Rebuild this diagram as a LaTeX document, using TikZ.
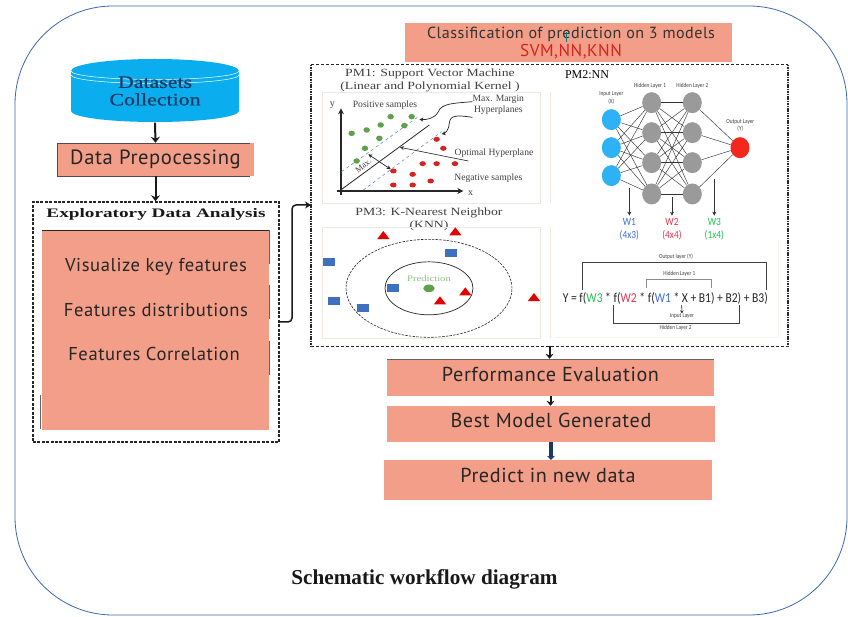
\documentclass[tikz,border=0pt]{standalone}
\usepackage{fontspec}
\setmainfont{Liberation Serif}
\newfontfamily\din{PT Sans}[LetterSpace=3]
\newfontfamily\wideserif{Liberation Serif}[FakeStretch=1.25]
\newfontfamily\widerserif{Liberation Serif}[FakeStretch=1.48]
\newfontfamily\cylserif{Liberation Serif}[FakeStretch=1.25,FakeBold=.6]
\newfontfamily\calfont{Carlito}
\newfontfamily\condfont{Carlito}[FakeStretch=.85]
\usetikzlibrary{arrows.meta,shapes.geometric}
\definecolor{salmon}{HTML}{F29E88}
\definecolor{frameblue}{HTML}{3E68AE}
\definecolor{cyl}{HTML}{0AAEEF}
\definecolor{navy}{HTML}{1B3A63}
\definecolor{panel}{HTML}{F0E8DE}
\definecolor{nblue}{HTML}{2DB2F5}
\definecolor{ngray}{HTML}{9A9A9A}
\definecolor{nred}{HTML}{F5261C}
\definecolor{pgreen}{HTML}{5FA04A}
\definecolor{pred}{HTML}{D5231F}
\definecolor{sqblue}{HTML}{3F70C0}
\definecolor{wblue}{HTML}{3D6FD8}
\definecolor{wred}{HTML}{E8344E}
\definecolor{wgreen}{HTML}{22C24C}
\tikzset{
  sbox/.style={fill=salmon,inner sep=0pt,text=black!85},
  din18/.style={font=\din\fontsize{18.6}{21}\selectfont},
  din20/.style={font=\din\fontsize{20.2}{22}\selectfont},
  flow/.style={line width=2pt,-{Stealth[length=6pt,width=9pt]},black!90},
  dframe/.style={draw=black!85,line width=1.4pt,dash pattern=on 3pt off 1.4pt},
  thin arrow/.style={line width=.7pt,-{Stealth[length=4pt,width=4pt]},black!80},
  pbox/.style={draw=panel,line width=.8pt},
  gdot/.style={ellipse,fill=pgreen,inner sep=0pt,minimum width=6.5pt,minimum height=5.5pt},
  rdot/.style={ellipse,fill=pred,inner sep=0pt,minimum width=6.5pt,minimum height=5pt},
  tri/.style={isosceles triangle,isosceles triangle apex angle=75,shape border rotate=90,fill=red!90!black,inner sep=0pt,minimum height=8pt,minimum width=11pt},
  sq/.style={fill=sqblue,inner sep=0pt,minimum width=12pt,minimum height=8pt},
  nn/.style={ellipse,inner sep=0pt,minimum width=19pt,minimum height=21pt},
  nedge/.style={line width=.45pt,black!80},
  tinylab/.style={font=\condfont\fontsize{6.2}{7.5}\selectfont,text=black!75,align=center,inner sep=0pt},
  gtitle/.style={font=\wideserif\fontsize{11}{13}\selectfont,text=black!75,align=center,inner sep=0pt},
  plabel/.style={font=\fontsize{9.6}{10.5}\selectfont,text=black!75,align=center,inner sep=0pt},
  wlab/.style={font=\condfont\fontsize{11}{12.5}\selectfont,align=center,inner sep=0pt},
}
\begin{document}
\begin{tikzpicture}[x=1pt,y=-1pt]
\useasboundingbox (0,0) rectangle (848,617);
\fill[white] (0,0) rectangle (848,617);
% outer frame
\draw[frameblue,line width=.8pt,rounded corners=98pt] (15,6) rectangle (847,615);
% cylinder
\fill[cyl] (71,71) arc[start angle=180,end angle=360,x radius=84,y radius=12]
  -- (239,111) arc[start angle=0,end angle=180,x radius=84,y radius=11] -- cycle;
\draw[white,line width=.5pt] (71,71) arc[start angle=180,end angle=0,x radius=84,y radius=8.5];
\draw[white,line width=.5pt] (71,75) arc[start angle=180,end angle=0,x radius=84,y radius=8.5];
\node[inner sep=0pt,minimum width=168pt,minimum height=63pt,align=center,text=navy,
  font=\cylserif\fontsize{17.5}{18.5}\selectfont] (data) at (155,91) {\raisebox{-1pt}{Datasets}\\Collection};
% data preprocessing
\node[sbox,din20,font=\din\fontsize{20.6}{22}\selectfont,minimum width=197pt,minimum height=33pt] (prep) at (155.5,159.5) {\raisebox{-2pt}{Data Prepocessing}};
\draw[black!70,line width=.8pt] (250,143) -- (57,143) -- (57,176) -- (250,176);
% EDA
\node[dframe,inner sep=0pt,minimum width=246pt,minimum height=240pt] (eda) at (156,322) {};
\node[inner sep=0pt,font=\widerserif\bfseries\fontsize{13}{14}\selectfont,text=black!90] (edatitle) at (156,214) {Exploratory Data Analysis};
\node[sbox,minimum width=227pt,minimum height=200pt] (edabox) at (155.5,330) {};
\draw[black!85,line width=.7pt] (42,230) -- (269,230);
\draw[black!60,line width=.8pt] (269,230) -- (269,264) (269,285) -- (269,319) (269,341) -- (269,375) (40,395) -- (40,429);
\node[din18,text=black!85,inner sep=0pt] (v1) at (156,267) {Visualize key features};
\node[din18,text=black!85,inner sep=0pt] (v2) at (156,310) {Features distributions};
\node[din18,text=black!85,inner sep=0pt] (v3) at (154,354) {Features Correlation};
% top box
\node[sbox,minimum width=327pt,minimum height=39pt,align=center] (topbox) at (568.5,42.5) {};
\node[inner sep=0pt,font=\din\fontsize{16.1}{18}\selectfont,text=black!80] (toptext) at (571,34) {Classification of prediction on 3 models};
\node[inner sep=0pt,font=\din\fontsize{17.2}{19}\selectfont,text=pred] (toptext2) at (571,52) {SVM,NN,KNN};
\draw[teal,line width=.4pt] (566,32) -- (566,42);
% models frame
\node[inner sep=0pt,minimum width=477pt,minimum height=281pt] (models) at (549.5,205.5) {};
\draw[black!85,line width=1pt,dash pattern=on 3.5pt off 1.5pt] (models.north west) -- (models.north east) (models.south west) -- (models.south east);
\draw[black!85,line width=1.7pt,dash pattern=on 1.6pt off .8pt] (models.north west) -- (models.south west) (models.north east) -- (models.south east);
% lower boxes
\node[sbox,din20,minimum width=327pt,minimum height=37pt] (perf) at (550.5,377.5) {\raisebox{7pt}{Performance Evaluation}};
\draw[black!60,line width=.6pt] (perf.north west) -- (perf.north east);
\node[sbox,din20,minimum width=328pt,minimum height=36pt] (best) at (551,424) {\raisebox{8pt}{Best Model Generated}};
\node[sbox,din20,minimum width=328pt,minimum height=40pt] (pred) at (548,480) {\raisebox{10pt}{Predict in new data}};
% flow connectors
\draw[flow] (data.south) -- (prep.north);
\draw[flow] (prep.south) -- (eda.north -| prep.south);
\coordinate (mentry) at (311,205);
\draw[line width=1.5pt,black!90,rounded corners=4pt,-{Stealth[length=6pt,width=7pt]}] (eda.east) -- (292,322) -- (292,205) -- (mentry);
\draw[line width=2pt,black!90,-{Stealth[length=5pt,width=8pt]}] (models.south) -- (models.south |- perf.north);
\draw[line width=2pt,black!90,-{Stealth[length=5pt,width=8pt]}] (perf.south) -- (perf.south |- best.north);
\draw[line width=3.6pt,navy,-{Stealth[length=4pt,width=8pt]}] (best.south) -- (best.south |- pred.north);
% PM1
\node[gtitle] (pm1) at (430,80) {PM1: Support Vector Machine\\(Linear and Polynomial Kernel )};
\begin{scope}[shift={(310,60)},x=.3333pt,y=-.3333pt]
\draw[pbox] (37,97) rectangle (690,430);
\draw[pbox] (722,97) -- (722,430);
\coordinate (ytip) at (93,145);
\coordinate (xtip) at (460,393);
\draw[line width=1.1pt,-{Stealth[length=6pt,width=6pt]},black!85] (93,405) -- (ytip);
\draw[line width=1.1pt,-{Stealth[length=6pt,width=6pt]},black!85] (80,393) -- (xtip);
\draw[line width=.6pt,dashed,sqblue!80] (95,335) -- (325,170);
\draw[line width=.6pt,dashed,sqblue!80] (160,390) -- (395,215);
\draw[line width=.8pt,black!85] (95,388) -- (358,195);
\foreach \p [count=\i] in {(125,220),(170,210),(212,195),(242,170),(305,170),(283,197),(208,235),(165,265),(140,303)}
  \node[gdot] (g\i) at \p {};
\foreach \p [count=\i] in {(380,238),(400,265),(338,311),(380,311),(435,311),(250,333),(308,343),(362,363),(250,375),(308,375)}
  \node[rdot] (r\i) at \p {};
\coordinate (ma) at (175,283);
\draw[line width=.7pt,{Stealth[length=4pt,width=4pt]}-{Stealth[length=4pt,width=4pt]},black!85] (ma) -- (r6);
\node[plabel,rotate=38,font=\fontsize{8.5}{10}\selectfont] (maxl) at (160,317) {Max.};
\node[plabel,anchor=west] (pos) at (128,135) {Positive samples};
\node[plabel] (mmh) at (565,135) {Max. Margin\\Hyperplanes};
\node[plabel] (opt) at (552,280) {Optimal Hyperplane};
\node[plabel] (neg) at (535,355) {Negative samples};
\node[plabel,font=\fontsize{10}{11}\selectfont] (xl) at (482,400) {x};
\node[plabel,font=\fontsize{10}{11}\selectfont] (yl) at (67,137) {y};
\draw[line width=.7pt,black!85,-{Stealth[length=4pt,width=4pt]}] (mmh.west) ++(0,-10) .. controls (430,130) and (395,130) .. (385,155) .. controls (375,175) and (350,180) .. (328,178);
\draw[line width=.7pt,black!85,-{Stealth[length=4pt,width=4pt]}] (mmh.south west) ++(0,8) .. controls (440,165) and (420,165) .. (418,190) .. controls (417,210) and (405,220) .. (395,222);
\coordinate (optend) at (475,303);
\coordinate (opttip) at (270,262);
\draw[thin arrow] (optend) -- (opttip);
\end{scope}
% PM3
\node[gtitle] (pm3) at (429,219) {PM3: K-Nearest Neighbor\\(KNN)};
\begin{scope}[shift={(310,200)},x=.3333pt,y=-.3333pt]
\draw[pbox] (37,82) rectangle (690,415);
\draw[pbox] (722,82) -- (722,415);
\node[ellipse,draw=black!85,line width=.6pt,dash pattern=on 2.5pt off 1.2pt,inner sep=0pt,minimum width=166pt,minimum height=98pt] (outerc) at (357,265) {};
\node[ellipse,draw=black!85,line width=.7pt,inner sep=0pt,minimum width=88pt,minimum height=53pt] (innerc) at (357,265) {};
\node[ellipse,fill=pgreen,inner sep=0pt,minimum width=11.5pt,minimum height=7.5pt] (predc) at (357,265) {};
\node[inner sep=0pt,font=\wideserif\fontsize{8.5}{10}\selectfont,text=pgreen!70] (predl) at (357,236) {Prediction};
\foreach \p [count=\i] in {(220,108),(436,97),(390,304),(466,277),(672,294)}
  \node[tri] (t\i) at \p {};
\foreach \p [count=\i] in {(423,160),(57,185),(250,265),(73,303),(158,324)}
  \node[sq] (s\i) at \p {};
\end{scope}
% PM2
\node[inner sep=0pt,font=\fontsize{12}{14}\selectfont,text=black] (pm2) at (587,75) {PM2:NN};
\begin{scope}[shift={(555,60)},x=.3333pt,y=-.3333pt]
\foreach \y [count=\i] in {179,263,347} \coordinate (ip\i) at (169,\y);
\foreach \y [count=\i] in {128,218,308,402} {\coordinate (ap\i) at (290,\y); \coordinate (bp\i) at (412,\y);}
\foreach \i in {1,2,3} \node[nn,fill=nblue] (in\i) at (ip\i) {};
\foreach \i in {1,2,3,4} {\node[nn,fill=ngray] (a\i) at (ap\i) {}; \node[nn,fill=ngray] (b\i) at (bp\i) {};}
\node[nn,fill=nred] (out) at (555,263) {};
\foreach \i in {1,2,3} \foreach \j in {1,2,3,4} \draw[nedge] (in\i) -- (a\j);
\foreach \i in {1,2,3,4} \foreach \j in {1,2,3,4} \draw[nedge] (a\i) -- (b\j);
\foreach \i in {1,2,3,4} \draw[nedge] (b\i) -- (out);
\node[tinylab] (ilab) at (169,114) {Input Layer\\(X)};
\node[tinylab] (h1lab) at (285,77) {Hidden Layer 1};
\node[tinylab] (h2lab) at (412,77) {Hidden Layer 2};
\node[tinylab] (olab) at (556,197) {Output Layer\\(Y)};
\node[wlab,text=wblue] (w1) at (223,508) {W1\\(4x3)};
\node[wlab,text=wred] (w2) at (351,508) {W2\\(4x4)};
\node[wlab,text=wgreen] (w3) at (478,508) {W3\\(1x4)};
\coordinate (wa) at (223,385);
\coordinate (wb) at (351,412);
\coordinate (wc) at (478,358);
\draw[thin arrow] (wa) -- (223,467);
\draw[thin arrow] (wb) -- (351,467);
\draw[thin arrow] (wc) -- (478,467);
\end{scope}
\begin{scope}[shift={(555,240)},x=.3333pt,y=-.3333pt]
\draw[draw=panel!50,line width=.7pt] (0,293) -- (670,293) -- (670,0);
\node[inner sep=0pt,font=\condfont\fontsize{13.6}{16}\selectfont,text=black!85] (formula) at (331,176)
 {Y = f(\textcolor{wgreen}{W3} * f(\textcolor{wred}{W2} * f(\textcolor{wblue}{W1} * X + B1) + B2) + B3)};
\draw[black!75,line width=.6pt] (82,150) -- (82,67) -- (634,67) -- (634,150);
\draw[black!45,line width=.7pt] (275,145) -- (275,117) -- (470,117) -- (470,145);
\draw[black!75,line width=.6pt] (175,195) -- (175,250) -- (553,250) -- (553,195);
\node[tinylab] (lo) at (363,50) {Output layer (Y)};
\node[tinylab] (l1) at (373,101) {Hidden Layer 1};
\node[tinylab] (li) at (381,228) {Input Layer};
\node[tinylab] (l2) at (362,265) {Hidden Layer 2};
\coordinate (xb) at (380,195);
\draw[line width=.6pt,black!85,-{Stealth[length=3pt,width=3.5pt]}] (xb) -- (li.north);
\end{scope}
% caption
\node[inner sep=0pt,font=\bfseries\fontsize{21.2}{24}\selectfont,text=black!90] (cap) at (424.5,579) {Schematic workflow diagram};
\end{tikzpicture}
\end{document}
